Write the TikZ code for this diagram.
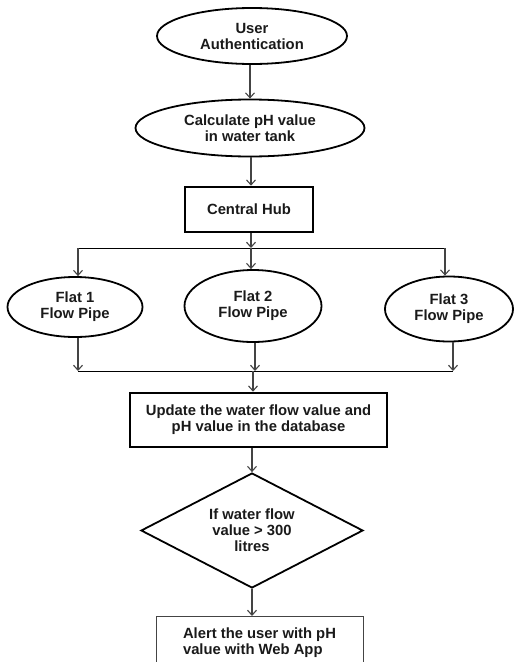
\documentclass[tikz,border=0pt]{standalone}
\usepackage{fontspec}
\setmainfont{Liberation Sans}
\usetikzlibrary{shapes.geometric,arrows.meta}
\definecolor{linegray}{HTML}{444444}
\definecolor{txt}{HTML}{1A1A1A}
\tikzset{
  base/.style={font=\fontsize{14.8}{16}\selectfont\bfseries, text=txt, align=center, inner sep=0pt},
  oval/.style={base, ellipse, draw=black, line width=1.8pt},
  hubbox/.style={base, rectangle, draw=black, line width=2.6pt},
  decision/.style={base, diamond, draw=black, line width=1.8pt},
  thinbox/.style={base, rectangle, draw=linegray, line width=0.9pt, align=left},
  arr/.style={draw=linegray, line width=1.1pt, -{Straight Barb[length=5pt,width=9pt,line width=1.1pt]}},
  busline/.style={draw=black, line width=1pt}
}
\begin{document}
\begin{tikzpicture}[x=1pt,y=-1pt]
\useasboundingbox (0,0) rectangle (514,662);
\clip (0,0) rectangle (514,662);

\node[oval, minimum width=190pt, minimum height=56pt] (ua) at (252,36) {User\\Authentication};
\node[oval, minimum width=229pt, minimum height=57pt] (calc) at (250,128) {Calculate pH value\\in water tank};
\node[hubbox, minimum width=128pt, minimum height=45pt] (hub) at (249,209.5) {Central Hub};

\coordinate (b1l) at (78,248);
\coordinate (b1m) at (251,248);
\coordinate (b1r) at (445,248);

\node[oval, minimum width=135pt, minimum height=60pt] (f1) at (75,307) {Flat 1\\Flow Pipe};
\node[oval, minimum width=137pt, minimum height=72pt] (f2) at (253,306) {Flat 2\\Flow Pipe};
\node[oval, minimum width=128pt, minimum height=65pt] (f3) at (449,309) {Flat 3\\Flow Pipe};

\coordinate (b2l) at (78,371);
\coordinate (b2m) at (255,371);
\coordinate (b2r) at (453,371);
\coordinate (b2c) at (253,371);

\node[hubbox, minimum width=257pt, minimum height=54pt] (upd) at (258.5,420) {Update the water flow value and\\pH value in the database};
\node[decision, minimum width=222pt, minimum height=115pt, aspect=1.93] (dia) at (252,530.5) {If water flow\\value > 300\\litres};
\node[thinbox, anchor=north, minimum width=207pt, minimum height=52pt] (alert) at (259.5,616) {Alert the user with pH\\value with Web App};

% connectors
\draw[arr] (ua.south -| calc.north) -- (calc.north);
\draw[arr] (calc.south -| b1m) -- (hub.north -| b1m);
\draw[arr] (hub.south -| b1m) -- (b1m);
\draw[busline] (b1l) -- (b1r);
\draw[arr] (b1l) -- (b1l |- f1.north);
\draw[arr] (b1m) -- (b1m |- f2.north);
\draw[arr] (b1r) -- (b1r |- f3.north);

\draw[arr] (b2l |- f1.south) -- (b2l);
\draw[arr] (b2m |- f2.south) -- (b2m);
\draw[arr] (b2r |- f3.south) -- (b2r);
\draw[busline] (b2l) -- (b2r);
\draw[arr] (b2c) -- (b2c |- upd.north);
\draw[arr] (upd.south -| dia.north) -- (dia.north);
\draw[arr] (dia.south) -- (dia.south |- alert.north);
\end{tikzpicture}
\end{document}
